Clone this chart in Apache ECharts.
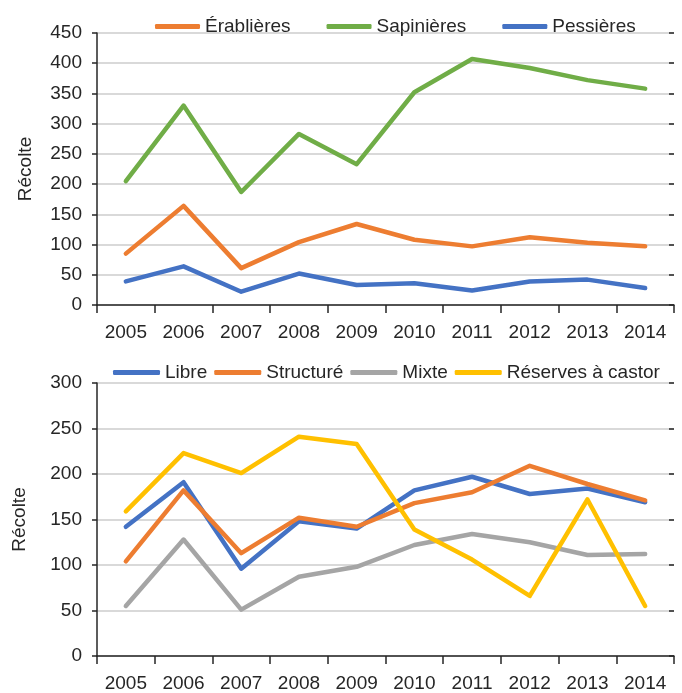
<!DOCTYPE html>
<html><head><meta charset="utf-8">
<script src="https://cdn.jsdelivr.net/npm/echarts@6/dist/echarts.min.js"></script>
<style>html,body{margin:0;padding:0;background:#fff}#c{width:682px;height:693px}</style>
</head><body><div id="c"></div>
<script>
const years = ['2005','2006','2007','2008','2009','2010','2011','2012','2013','2014'];
const erablieres = [85,164,61,104,134,108,97,112,103,97];
const sapinieres = [205,330,187,283,233,352,407,392,372,358];
const pessieres = [39,64,22,52,33,36,24,39,42,28];
const libre = [142,191,96,148,140,182,197,178,184,169];
const structure = [104,182,113,152,142,168,180,209,189,171];
const mixte = [55,128,51,87,98,122,134,125,111,112];
const reserves = [159,223,201,241,233,139,106,66,172,55];

const FONT = '"Liberation Sans", Arial, sans-serif';
const TXT = '#262626';
const FS = 19;
const chart = echarts.init(document.getElementById('c'), null, {renderer:'canvas'});
function xAx(i){return {type:'category',gridIndex:i,data:years,boundaryGap:true,
  axisLine:{lineStyle:{color:'#262626',width:1.5}},
  axisTick:{show:true,length:8,lineStyle:{color:'#262626',width:1.5}},
  axisLabel:{color:TXT,fontFamily:FONT,fontSize:FS,margin:18,interval:0}};}
function xAxIn(i){return {type:'category',gridIndex:i,data:years,boundaryGap:true,
  axisLine:{show:false},
  axisTick:{show:true,inside:true,length:4,lineStyle:{color:'#262626',width:1.5}},
  axisLabel:{show:false}};}
function yAx(i,max,gap){return {type:'value',gridIndex:i,min:0,max:max,interval:50,
  name:'Récolte',nameLocation:'middle',nameGap:gap,nameRotate:90,
  nameTextStyle:{color:TXT,fontFamily:FONT,fontSize:FS},
  axisLine:{show:true,lineStyle:{color:'#262626',width:1.5}},
  axisTick:{show:true,length:5,lineStyle:{color:'#262626',width:1.5}},
  splitLine:{show:true,lineStyle:{color:'#d9d9d9',width:1.8}},
  axisLabel:{color:TXT,fontFamily:FONT,fontSize:FS,margin:15,padding:[5,0,0,0]}};}
function yAxIn(i,max){return {type:'value',gridIndex:i,min:0,max:max,interval:50,
  axisLine:{show:false},splitLine:{show:false},axisLabel:{show:false},
  axisTick:{show:true,inside:true,length:5,lineStyle:{color:'#262626',width:1.5}}};}
function ser(name,data,color,i){return {name:name,type:'line',data:data,xAxisIndex:i,yAxisIndex:i,
  symbol:'none',color:color,lineStyle:{width:4.5,color:color,cap:'round',join:'round'}};}
chart.setOption({
  animation:false,
  grid:[{left:97,top:33,width:577,height:272},{left:97,top:383,width:577,height:277}],
  xAxis:[xAx(0),xAx(1),xAxIn(0),xAxIn(1)],
  yAxis:[yAx(0,450,62),yAx(1,300,68),yAxIn(0,450),yAxIn(1,300)],
  legend:[
    {left:150,top:12,itemWidth:45,itemHeight:5,itemGap:36,icon:'roundRect',
     textStyle:{color:TXT,fontFamily:FONT,fontSize:FS},
     data:['Érablières','Sapinières','Pessières']},
    {left:108,top:358,itemWidth:47,itemHeight:5,itemGap:7,icon:'roundRect',
     textStyle:{color:TXT,fontFamily:FONT,fontSize:FS},
     data:['Libre','Structuré','Mixte','Réserves à castor']}
  ],
  series:[
    ser('Érablières',erablieres,'#ED7D31',0),
    ser('Sapinières',sapinieres,'#70AD47',0),
    ser('Pessières',pessieres,'#4472C4',0),
    ser('Libre',libre,'#4472C4',1),
    ser('Structuré',structure,'#ED7D31',1),
    ser('Mixte',mixte,'#A5A5A5',1),
    ser('Réserves à castor',reserves,'#FFC000',1)
  ]
});
</script></body></html>
